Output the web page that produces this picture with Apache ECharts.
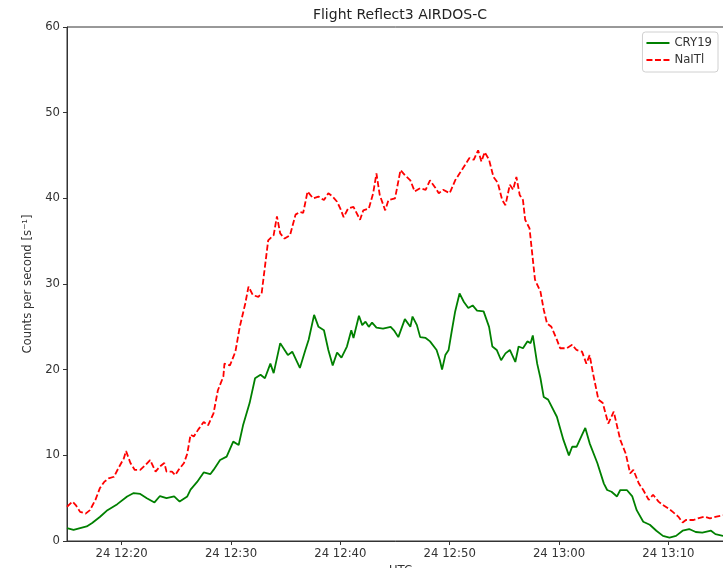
<!DOCTYPE html>
<html>
<head>
<meta charset="utf-8">
<script src="https://cdn.jsdelivr.net/npm/echarts@6/dist/echarts.min.js"></script>
<style>
  html, body { margin: 0; padding: 0; background: #fff; }
  #chart { width: 723px; height: 568px; }
</style>
</head>
<body>
<div id="chart"></div>
<script>
// Time is in minutes after 12:00 UTC on day 24.
const cryMinutes = [15.0, 15.6, 16.2, 16.8, 17.3, 18.0, 18.7, 19.6, 20.5, 21.1, 21.7, 22.3, 23.0, 23.5, 24.1, 24.8, 25.3, 26.0, 26.3, 26.9, 27.5, 28.1, 28.4, 29.0, 29.6, 30.2, 30.7, 31.1, 31.7, 32.2, 32.7, 33.1, 33.6, 33.9, 34.5, 34.9, 35.2, 35.6, 36.3, 36.8, 37.1, 37.6, 38.0, 38.5, 38.9, 39.3, 39.7, 40.1, 40.6, 41.0, 41.2, 41.7, 42.0, 42.3, 42.6, 42.9, 43.3, 43.9, 44.6, 44.9, 45.3, 45.9, 46.4, 46.6, 47.0, 47.3, 47.8, 48.2, 48.8, 49.1, 49.3, 49.6, 49.9, 50.2, 50.5, 50.9, 51.3, 51.7, 52.1, 52.5, 53.1, 53.6, 53.9, 54.3, 54.7, 55.1, 55.5, 56.0, 56.3, 56.7, 57.1, 57.4, 57.6, 58.0, 58.3, 58.6, 59.0, 59.8, 60.4, 60.9, 61.2, 61.6, 62.1, 62.4, 62.8, 63.5, 64.1, 64.4, 64.8, 65.3, 65.6, 66.2, 66.7, 67.1, 67.7, 68.3, 68.9, 69.5, 70.1, 70.7, 71.3, 71.9, 72.5, 73.1, 73.9, 74.3, 75.0];
const cryCounts = [1.5, 1.3, 1.5, 1.7, 2.1, 2.8, 3.6, 4.3, 5.2, 5.6, 5.5, 5.0, 4.5, 5.25, 5.0, 5.2, 4.6, 5.2, 6.0, 6.9, 8.0, 7.8, 8.3, 9.45, 9.85, 11.6, 11.2, 13.5, 16.1, 19.0, 19.4, 19.0, 20.7, 19.6, 23.1, 22.3, 21.7, 22.1, 20.2, 22.3, 23.5, 26.4, 25.0, 24.6, 22.3, 20.5, 22.0, 21.4, 22.7, 24.6, 23.7, 26.3, 25.2, 25.6, 25.0, 25.5, 24.9, 24.8, 25.0, 24.6, 23.8, 25.9, 25.0, 26.2, 25.2, 23.8, 23.7, 23.3, 22.3, 21.1, 20.0, 21.7, 22.3, 24.6, 26.8, 28.9, 27.9, 27.2, 27.5, 26.9, 26.8, 25.0, 22.7, 22.3, 21.1, 21.9, 22.3, 20.9, 22.7, 22.5, 23.3, 23.1, 24.0, 20.7, 19.0, 16.8, 16.5, 14.5, 11.8, 10.0, 11.0, 11.0, 12.4, 13.2, 11.4, 9.1, 6.7, 5.95, 5.75, 5.2, 5.95, 5.95, 5.2, 3.6, 2.25, 1.9, 1.2, 0.6, 0.4, 0.6, 1.2, 1.4, 1.05, 0.97, 1.2, 0.8, 0.6];

const naiMinutes = [15.0, 15.5, 15.8, 16.2, 16.7, 17.1, 17.6, 18.0, 18.4, 18.8, 19.3, 19.7, 20.2, 20.4, 20.8, 21.2, 21.7, 22.2, 22.6, 23.1, 23.5, 23.9, 24.1, 24.6, 24.9, 25.2, 25.7, 26.0, 26.3, 26.6, 27.0, 27.5, 27.9, 28.4, 28.8, 29.3, 29.4, 29.9, 30.4, 30.8, 31.3, 31.6, 32.0, 32.5, 32.8, 33.1, 33.4, 33.9, 34.2, 34.5, 34.9, 35.4, 35.9, 36.3, 36.6, 37.0, 37.5, 38.0, 38.5, 38.9, 39.3, 39.7, 40.0, 40.3, 40.7, 41.2, 41.8, 42.1, 42.6, 43.0, 43.3, 43.6, 44.1, 44.4, 45.0, 45.5, 45.9, 46.4, 46.8, 47.3, 47.8, 48.2, 48.7, 49.0, 49.4, 50.0, 50.5, 50.9, 51.4, 51.8, 52.2, 52.6, 52.9, 53.2, 53.6, 54.0, 54.4, 54.8, 55.1, 55.5, 55.8, 56.1, 56.4, 56.7, 56.9, 57.3, 57.8, 58.3, 58.6, 58.9, 59.3, 59.8, 60.1, 60.7, 61.2, 61.6, 62.1, 62.5, 62.8, 63.1, 63.6, 64.0, 64.5, 65.0, 65.6, 66.1, 66.5, 66.8, 67.3, 67.7, 68.2, 68.6, 69.1, 69.5, 70.0, 70.4, 70.9, 71.3, 71.6, 72.3, 72.7, 73.3, 73.8, 74.4, 75.0];
const naiCounts = [4.0, 4.6, 4.2, 3.4, 3.2, 3.6, 4.8, 6.15, 6.9, 7.3, 7.5, 8.5, 9.65, 10.5, 9.1, 8.3, 8.3, 8.9, 9.45, 8.1, 8.7, 9.1, 8.1, 8.1, 7.7, 8.3, 9.1, 10.2, 12.4, 12.2, 13.0, 13.9, 13.5, 14.9, 17.6, 19.2, 20.7, 20.5, 22.1, 25.0, 27.7, 29.7, 28.7, 28.5, 28.9, 32.0, 35.1, 35.7, 37.9, 35.9, 35.3, 35.7, 38.1, 38.4, 38.3, 40.8, 40.0, 40.2, 39.8, 40.6, 40.2, 39.6, 38.8, 37.8, 38.8, 39.0, 37.5, 38.6, 38.8, 40.6, 42.9, 40.4, 38.6, 39.8, 40.0, 43.3, 42.7, 42.1, 40.8, 41.2, 41.0, 42.1, 41.2, 40.6, 41.0, 40.6, 42.1, 42.9, 43.9, 44.7, 44.5, 45.6, 44.3, 45.4, 44.5, 42.5, 41.8, 39.8, 39.2, 41.6, 41.0, 42.5, 40.4, 39.8, 37.5, 36.5, 30.5, 29.1, 27.0, 25.4, 25.0, 23.5, 22.5, 22.5, 22.9, 22.3, 22.1, 20.7, 21.7, 19.6, 16.5, 16.1, 13.7, 15.1, 11.8, 10.2, 7.9, 8.3, 6.7, 5.95, 4.8, 5.4, 4.6, 4.2, 3.8, 3.4, 2.85, 2.15, 2.45, 2.45, 2.65, 2.85, 2.65, 2.85, 3.0];

const timeTicks = [20, 30, 40, 50, 60, 70];
const countTicks = [0, 10, 20, 30, 40, 50, 60];

function pairs(xs, ys) {
  return xs.map((x, i) => [x, ys[i]]);
}

function timeLabel(m) {
  const h = 12 + Math.floor(m / 60);
  const mm = Math.round(m % 60);
  return '24 ' + h + ':' + String(mm).padStart(2, '0');
}

const FONT = 'DejaVu Sans';
const INK = '#333';

// Legend handles: a plain stroke and a three-dash stroke.
const SOLID_HANDLE = 'path://M0,0h23v2h-23z';
const DASHED_HANDLE = 'path://M0,0h6v2h-6z M8.5,0h6v2h-6z M17,0h6v2h-6z';

const chart = echarts.init(document.getElementById('chart'), null, { renderer: 'canvas' });
chart.setOption({
  backgroundColor: '#fff',
  animation: false,
  title: {
    text: 'Flight Reflect3 AIRDOS-C',
    left: 395,
    textAlign: 'center',
    top: 3,
    textStyle: { fontFamily: FONT, fontSize: 14, fontWeight: 'normal', color: '#222' }
  },
  legend: {
    orient: 'vertical',
    right: 5,
    top: 32,
    itemWidth: 23,
    itemHeight: 2,
    itemGap: 5,
    padding: [5, 6, 6, 4],
    borderColor: '#d0d0d0',
    borderWidth: 1,
    borderRadius: 3,
    backgroundColor: '#fff',
    textStyle: { fontFamily: FONT, fontSize: 11.7, color: INK },
    data: [
      { name: 'CRY19', icon: SOLID_HANDLE },
      { name: 'NaITl', icon: DASHED_HANDLE }
    ]
  },
  grid: {
    left: 67,
    right: -11,
    top: 27,
    bottom: 27,
    containLabel: false,
    outerBoundsMode: 'none',
    show: true,
    borderColor: INK,
    borderWidth: 1,
    backgroundColor: 'transparent'
  },
  xAxis: {
    type: 'value',
    min: 15,
    max: 76,
    name: 'UTC',
    nameLocation: 'middle',
    nameGap: 22,
    nameTextStyle: { fontFamily: FONT, fontSize: 11.7, color: INK },
    axisLine: { show: true, onZero: false, lineStyle: { color: INK, width: 1 } },
    axisTick: { show: true, inside: false, length: 4, customValues: timeTicks, lineStyle: { color: INK } },
    axisLabel: {
      customValues: timeTicks,
      margin: 7,
      fontFamily: FONT,
      fontSize: 11.7,
      color: INK,
      formatter: v => timeLabel(v)
    },
    splitLine: { show: false }
  },
  yAxis: {
    type: 'value',
    min: countTicks[0],
    max: countTicks[countTicks.length - 1],
    interval: 10,
    name: 'Counts per second [s\u207B\u00B9]',
    nameLocation: 'middle',
    nameGap: 29,
    nameRotate: 90,
    nameTextStyle: { fontFamily: FONT, fontSize: 11.7, color: INK },
    axisLine: { show: true, lineStyle: { color: INK, width: 1 } },
    axisTick: { show: true, inside: false, length: 4, lineStyle: { color: INK } },
    axisLabel: { margin: 7, fontFamily: FONT, fontSize: 11.7, color: INK },
    splitLine: { show: false }
  },
  series: [
    {
      name: 'CRY19',
      type: 'line',
      data: pairs(cryMinutes, cryCounts),
      symbol: 'none',
      color: '#008000',
      lineStyle: { color: '#008000', width: 1.8 },
      z: 3
    },
    {
      name: 'NaITl',
      type: 'line',
      data: pairs(naiMinutes, naiCounts),
      symbol: 'none',
      color: '#ff0000',
      lineStyle: { color: '#ff0000', width: 1.8, type: [6, 2.6] },
      z: 2
    }
  ]
});
</script>
</body>
</html>
